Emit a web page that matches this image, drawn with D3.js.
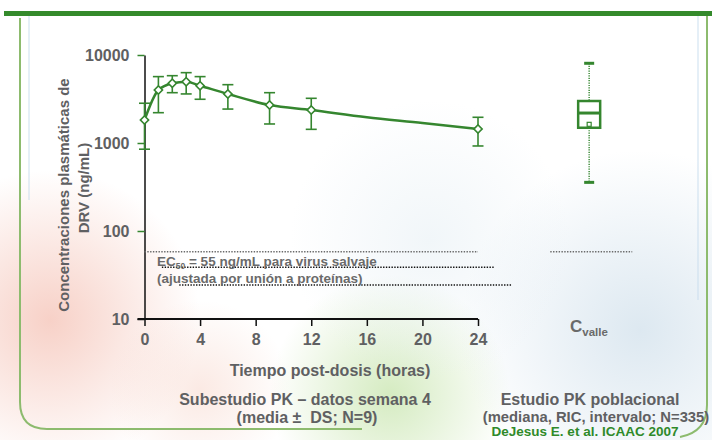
<!DOCTYPE html>
<html lang="es">
<head>
<meta charset="UTF-8">
<script src="https://d3js.org/d3.v7.min.js"></script>
<style>
  body { margin: 0; background: #fff; }
  svg { font-family: "Liberation Sans", Arial, sans-serif; font-weight: bold; }
</style>
</head>
<body>
<div id="chart"></div>
<script>
// PK substudy, week 4 (mean ± SD)
const hours = [0, 1, 2, 3, 4, 6, 9, 12, 24];
const meanConc = [1820, 4000, 4770, 4980, 4480, 3610, 2700, 2370, 1440];
const sdHigh = [2830, 5680, 5820, 6300, 5680, 4600, 3730, 3220, 1960];
const sdLow = [850, 2210, 3730, 3610, 3140, 2430, 1645, 1430, 925];
// line passes through extra unmarked points between 12 and 24 h
const lineHours = [0, 1, 2, 3, 4, 6, 9, 12, 16, 20, 24];
const lineConc = [1820, 4000, 4770, 4980, 4480, 3610, 2700, 2370, 1960, 1690, 1440];

// population PK study box (Cvalle)
const boxPos = 32;
const boxStats = { min: 357, q1: 1490, median: 2190, q3: 3000, max: 8050, mean: 1630 };

// EC50 reference lines (value, from hour, to hour)
const ecLines = [
  { v: 58, x0: 0, x1: 24, color: "#6a6a6a" },
  { v: 38.7, x0: 1.25, x1: 25.2, color: "#111" },
  { v: 24.3, x0: 2.5, x1: 26.4, color: "#111" },
  { v: 58, x0: 29.2, x1: 35.1, color: "#6a6a6a" }
];

const xTicks = [0, 4, 8, 12, 16, 20, 24];
const yTicks = [10, 100, 1000, 10000];
const yTickLabels = ["10", "100", "1000", "10000"];

const W = 712, H = 440;
const green = "#35862f";
const grey = "#5f6062";

const svg = d3.select("#chart").append("svg")
  .attr("width", W).attr("height", H);

// soft slide background
const defs = svg.append("defs");
const blobs = [
  { id: "bRed", cx: 50, cy: 320, r: 150, c: "#f2b2a2", o: 0.6 },
  { id: "bRed2", cx: 200, cy: 390, r: 90, c: "#f6cfc2", o: 0.45 },
  { id: "bGreen", cx: 390, cy: 395, r: 120, c: "#b9de98", o: 0.6 },
  { id: "bBlue", cx: 640, cy: 330, r: 180, c: "#c6d9e7", o: 0.6 },
  { id: "bBlue2", cx: 430, cy: 240, r: 140, c: "#e3edf3", o: 0.5 }
];
blobs.forEach(b => {
  const g = defs.append("radialGradient").attr("id", b.id);
  g.append("stop").attr("offset", "0%").attr("stop-color", b.c).attr("stop-opacity", b.o);
  g.append("stop").attr("offset", "100%").attr("stop-color", b.c).attr("stop-opacity", 0);
  svg.append("circle").attr("cx", b.cx).attr("cy", b.cy).attr("r", b.r)
    .attr("fill", `url(#${b.id})`);
});

// slide frame
svg.append("rect").attr("x", 4).attr("y", 11).attr("width", W - 4).attr("height", 5).attr("fill", "#348a2b");
svg.append("line").attr("x1", 29).attr("x2", 29).attr("y1", 16).attr("y2", 200)
  .attr("stroke", "#c7dcee").attr("stroke-width", 1.5).attr("opacity", 0.6);
svg.append("line").attr("x1", 698).attr("x2", 698).attr("y1", 16).attr("y2", 300)
  .attr("stroke", "#c7dcee").attr("stroke-width", 1.5).attr("opacity", 0.6);
svg.append("path").attr("d", "M20,18 L20,402 Q20,429 47,429 L362,429")
  .attr("fill", "none").attr("stroke", "#8dbb6e").attr("stroke-width", 2);
svg.append("path").attr("d", "M707,16 L707,405 Q707,432 680,437")
  .attr("fill", "none").attr("stroke", "#8dbb6e").attr("stroke-width", 2);

// scales
const x = d3.scaleLinear().domain([0, 24]).range([144.5, 478]);
const y = d3.scaleLog().domain([10, 10000]).range([319, 55]);

// axes
const xAxis = svg.append("g").attr("transform", `translate(0,${y(10)})`)
  .call(d3.axisBottom(x).tickValues(xTicks).tickSize(7).tickPadding(8).tickSizeOuter(0));
xAxis.select(".domain").attr("stroke", "#111").attr("stroke-width", 2).attr("d", `M${x(0) - 7},0H${x(24)}`);
xAxis.selectAll(".tick line").attr("stroke", "#111").attr("stroke-width", 1.5);
xAxis.selectAll(".tick text").attr("fill", grey).attr("font-size", 16).attr("font-family", null);

const yAxis = svg.append("g").attr("transform", `translate(${x(0)},0)`)
  .call(d3.axisLeft(y).tickValues(yTicks).tickFormat((d, i) => yTickLabels[i]).tickSize(7).tickPadding(8).tickSizeOuter(0));
yAxis.select(".domain").attr("stroke", "#111").attr("stroke-width", 1.5);
yAxis.selectAll(".tick line").attr("stroke", d => d === 10 ? "#111" : green).attr("stroke-width", 1.5);
yAxis.selectAll(".tick text").attr("fill", grey).attr("font-size", 16).attr("font-family", null);

// axis titles
svg.append("text").attr("x", 330).attr("y", 376).attr("text-anchor", "middle")
  .attr("font-size", 16).attr("fill", grey).text("Tiempo post-dosis (horas)");
svg.append("text").attr("transform", "translate(69,195) rotate(-90)").attr("text-anchor", "middle")
  .attr("font-size", 15).attr("fill", grey).text("Concentraciones plasmáticas de");
svg.append("text").attr("transform", "translate(89,188) rotate(-90)").attr("text-anchor", "middle")
  .attr("font-size", 15).attr("fill", grey).text("DRV (ng/mL)");

// EC50 lines
svg.selectAll(".ec").data(ecLines).join("line")
  .attr("x1", d => x(d.x0)).attr("x2", d => x(d.x1))
  .attr("y1", d => y(d.v)).attr("y2", d => y(d.v))
  .attr("stroke", d => d.color).attr("stroke-width", 1.6).attr("stroke-dasharray", "1.4,1.4");

const ecText = svg.append("text").attr("x", 157).attr("y", 266).attr("font-size", 13.5).attr("fill", "#6a6a6a");
ecText.append("tspan").text("EC");
ecText.append("tspan").attr("font-size", 8.5).attr("dy", 3).text("50");
ecText.append("tspan").attr("dy", -3).text(" = 55 ng/mL para virus salvaje");
svg.append("text").attr("x", 157).attr("y", 283).attr("font-size", 13.5).attr("fill", "#6a6a6a")
  .text("(ajustada por unión a proteínas)");

// mean line
const pts = hours.map((h, i) => ({ h, m: meanConc[i], hi: sdHigh[i], lo: sdLow[i] }));
svg.append("path").datum(lineHours.map((h, i) => [h, lineConc[i]]))
  .attr("fill", "none").attr("stroke", green).attr("stroke-width", 2.5)
  .attr("d", d3.line().curve(d3.curveMonotoneX).x(d => x(d[0])).y(d => y(d[1])));

// error bars
const eb = svg.append("g").attr("stroke", green).attr("stroke-width", 1.6);
pts.forEach(d => {
  eb.append("line").attr("x1", x(d.h)).attr("x2", x(d.h)).attr("y1", y(d.hi)).attr("y2", y(d.lo));
  [d.hi, d.lo].forEach(v => eb.append("line")
    .attr("x1", x(d.h) - 5.5).attr("x2", x(d.h) + 5.5).attr("y1", y(v)).attr("y2", y(v)));
});

// diamond markers
svg.selectAll(".mk").data(pts).join("path")
  .attr("d", d3.symbol(d3.symbolSquare, 34))
  .attr("transform", d => `translate(${x(d.h)},${y(d.m)}) rotate(45)`)
  .attr("fill", "#fff").attr("stroke", green).attr("stroke-width", 1.6);

// box plot
const bx = x(boxPos), bw = 22;
svg.append("line").attr("x1", bx).attr("x2", bx).attr("y1", y(boxStats.max)).attr("y2", y(boxStats.q3))
  .attr("stroke", "#4b9447").attr("stroke-width", 1.6).attr("stroke-dasharray", "1.2,1.2");
svg.append("line").attr("x1", bx).attr("x2", bx).attr("y1", y(boxStats.q1)).attr("y2", y(boxStats.min))
  .attr("stroke", "#4b9447").attr("stroke-width", 1.6).attr("stroke-dasharray", "1.2,1.2");
[boxStats.max, boxStats.min].forEach(v => svg.append("rect")
  .attr("x", bx - 5).attr("y", y(v) - 1.5).attr("width", 10).attr("height", 3).attr("fill", green));
svg.append("rect").attr("x", bx - bw / 2).attr("y", y(boxStats.q3))
  .attr("width", bw).attr("height", y(boxStats.q1) - y(boxStats.q3))
  .attr("fill", "#fff").attr("stroke", green).attr("stroke-width", 2.5);
svg.append("line").attr("x1", bx - bw / 2).attr("x2", bx + bw / 2)
  .attr("y1", y(boxStats.median)).attr("y2", y(boxStats.median))
  .attr("stroke", green).attr("stroke-width", 3);
svg.append("rect").attr("x", bx - 2).attr("y", y(boxStats.mean) - 2).attr("width", 4).attr("height", 4)
  .attr("fill", "#fff").attr("stroke", green).attr("stroke-width", 1.2);

// Cvalle label
const cv = svg.append("text").attr("x", 570).attr("y", 332).attr("fill", "#6a6a6a");
cv.append("tspan").attr("font-size", 17).text("C");
cv.append("tspan").attr("font-size", 11.5).attr("dy", 4).text("valle");

// footers
svg.append("text").attr("x", 305).attr("y", 405).attr("text-anchor", "middle")
  .attr("font-size", 16).attr("fill", grey).text("Subestudio PK – datos semana 4");
svg.append("text").attr("x", 307).attr("y", 423).attr("text-anchor", "middle")
  .attr("font-size", 16).attr("fill", grey).attr("xml:space", "preserve").text("(media ±  DS; N=9)");
svg.append("text").attr("x", 590).attr("y", 405).attr("text-anchor", "middle")
  .attr("font-size", 16).attr("fill", grey).text("Estudio PK poblacional");
svg.append("text").attr("x", 596).attr("y", 422).attr("text-anchor", "middle")
  .attr("font-size", 14.8).attr("fill", grey).text("(mediana, RIC, intervalo; N=335)");
svg.append("text").attr("x", 585).attr("y", 436).attr("text-anchor", "middle")
  .attr("font-size", 13.5).attr("fill", "#2f8a2a").text("DeJesus E. et al. ICAAC 2007");
</script>
</body>
</html>
